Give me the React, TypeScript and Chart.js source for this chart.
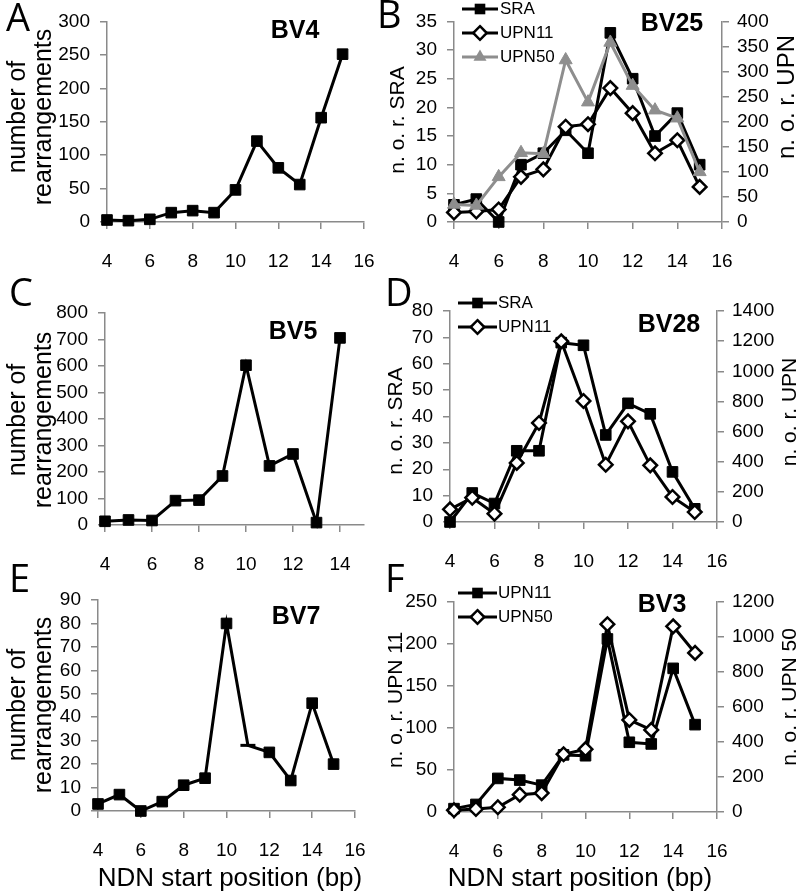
import React, { useEffect, useRef } from 'react';
import { Chart, registerables } from 'chart.js';

Chart.register(...registerables);

// ---------- data ----------
const POS = [4, 5, 6, 7, 8, 9, 10, 11, 12, 13, 14, 15];
const POS_C = [4, 5, 6, 7, 8, 9, 10, 11, 12, 13, 14];

const A_BV4 = [3, 2, 4, 14, 17, 14, 48, 121, 81, 56, 156, 251];

const B_SRA = [3, 4, 0, 10, 12, 16, 12, 33, 25, 15, 19, 10];
const B_UPN11 = [19, 21, 25, 90, 105, 190, 195, 267, 217, 137, 163, 70];
const B_UPN50 = [35, 33, 90, 138, 136, 323, 239, 358, 272, 223, 207, 100];

const C_BV5 = [14, 19, 17, 92, 94, 185, 603, 223, 268, 9, 706];

const D_SRA = [0, 11, 7, 27, 27, 68, 67, 33, 45, 41, 19, 5];
const D_UPN11 = [84, 161, 55, 392, 657, 1199, 803, 380, 668, 376, 166, 66];

const E_BV7 = [3, 7, 0, 4, 11, 14, 80, 28, 25, 13, 46, 20];
const E_STYLES = ['rect', 'rect', 'rect', 'rect', 'rect', 'rect', 'rect', 'line', 'rect', 'rect', 'rect', 'rect'];

const F_UPN11 = [4, 9, 40, 38, 32, 68, 67, 206, 83, 81, 171, 104];
const F_UPN50 = [10, 17, 27, 99, 108, 330, 359, 1073, 526, 469, 1061, 909];

const X_TITLE = 'NDN start position (bp)';
const Y_TITLE_COUNT = ['number of', 'rearrangements'];

// ---------- styling ----------
const FONT = '"Liberation Sans", Arial, sans-serif';
const LETTER_FONT = '38px "Open Sans", sans-serif';
const BV_FONT = `bold 25px ${FONT}`;
const AXIS = '#8a8a8a';
const GRAY = '#8e8e8e';

type Marker = 'square' | 'diamond' | 'triangle';
interface Series {
  label: string;
  xs: number[];
  data: number[];
  axis: 'y' | 'y1';
  marker: Marker;
  color: string;
  styles?: string[];
}
interface Txt {
  text: string;
  x: number;
  y: number;
  font: string;
  rot?: boolean;
  left?: boolean;
}
interface Panel {
  box: { x: number; y: number; w: number; h: number };
  plot: { l: number; t: number; r: number; b: number };
  xMax: number;
  y: { max: number; step: number };
  y1?: { max: number; step: number };
  series: Series[];
  texts: Txt[];
  legend?: { x1: number; x2: number; tx: number; ys: number[] };
}

const letter = (t: string, x: number, y: number): Txt => ({ text: t, x, y, font: LETTER_FONT, left: true });
const bv = (t: string, x: number, y: number): Txt => ({ text: t, x, y, font: BV_FONT });
const rot = (t: string, x: number, y: number, size: number): Txt => ({ text: t, x, y, font: `${size}px ${FONT}`, rot: true });
const xt = (x: number): Txt => ({ text: X_TITLE, x, y: 879, font: `26px ${FONT}` });

const PANELS: Panel[] = [
  {
    box: { x: 0, y: 0, w: 400, h: 280 },
    plot: { l: 107, t: 13, r: 364, b: 222 },
    xMax: 16,
    y: { max: 300, step: 50 },
    series: [{ label: 'BV4', xs: POS, data: A_BV4, axis: 'y', marker: 'square', color: '#000' }],
    texts: [letter('A', 6, 31), bv('BV4', 295, 31), rot(Y_TITLE_COUNT[0], 18, 117, 25), rot(Y_TITLE_COUNT[1], 44, 117, 25)],
  },
  {
    box: { x: 370, y: 0, w: 430, h: 280 },
    plot: { l: 454, t: 9, r: 722, b: 222 },
    xMax: 16,
    y: { max: 35, step: 5 },
    y1: { max: 400, step: 50 },
    series: [
      { label: 'SRA', xs: POS, data: B_SRA, axis: 'y', marker: 'square', color: '#000' },
      { label: 'UPN11', xs: POS, data: B_UPN11, axis: 'y1', marker: 'diamond', color: '#000' },
      { label: 'UPN50', xs: POS, data: B_UPN50, axis: 'y1', marker: 'triangle', color: GRAY },
    ],
    texts: [letter('B', 377, 28), bv('BV25', 672, 24), rot('n. o. r. SRA', 398, 120, 21), rot('n. o. r. UPN', 787, 97, 24)],
    legend: { x1: 462, x2: 498, tx: 500, ys: [9, 33, 57] },
  },
  {
    box: { x: 0, y: 265, w: 400, h: 310 },
    plot: { l: 105, t: 313, r: 363.5, b: 525 },
    xMax: 15,
    y: { max: 800, step: 100 },
    series: [{ label: 'BV5', xs: POS_C, data: C_BV5, axis: 'y', marker: 'square', color: '#000' }],
    texts: [letter('C', 9, 306), bv('BV5', 293, 332), rot(Y_TITLE_COUNT[0], 18, 420, 25), rot(Y_TITLE_COUNT[1], 44, 420, 25)],
  },
  {
    box: { x: 370, y: 265, w: 430, h: 310 },
    plot: { l: 450, t: 311, r: 717, b: 522 },
    xMax: 16,
    y: { max: 80, step: 10 },
    y1: { max: 1400, step: 200 },
    series: [
      { label: 'SRA', xs: POS, data: D_SRA, axis: 'y', marker: 'square', color: '#000' },
      { label: 'UPN11', xs: POS, data: D_UPN11, axis: 'y1', marker: 'diamond', color: '#000' },
    ],
    texts: [letter('D', 385, 306), bv('BV28', 669, 325), rot('n. o. r. SRA', 396, 421, 21), rot('n. o. r. UPN', 790, 412, 21)],
    legend: { x1: 458, x2: 497, tx: 498, ys: [303, 327] },
  },
  {
    box: { x: 0, y: 555, w: 400, h: 338 },
    plot: { l: 98, t: 600, r: 355, b: 811 },
    xMax: 16,
    y: { max: 90, step: 10 },
    series: [{ label: 'BV7', xs: POS, data: E_BV7, axis: 'y', marker: 'square', color: '#000', styles: E_STYLES }],
    texts: [letter('E', 9, 592), bv('BV7', 296, 617), rot(Y_TITLE_COUNT[0], 18, 705, 25), rot(Y_TITLE_COUNT[1], 44, 705, 25), xt(230)],
  },
  {
    box: { x: 370, y: 555, w: 430, h: 338 },
    plot: { l: 454, t: 602, r: 717, b: 812 },
    xMax: 16,
    y: { max: 250, step: 50 },
    y1: { max: 1200, step: 200 },
    series: [
      { label: 'UPN11', xs: POS, data: F_UPN11, axis: 'y', marker: 'square', color: '#000' },
      { label: 'UPN50', xs: POS, data: F_UPN50, axis: 'y1', marker: 'diamond', color: '#000' },
    ],
    texts: [letter('F', 385, 592), bv('BV3', 662, 605), rot('n. o. r. UPN 11', 396, 700, 21), rot('n. o. r. UPN 50', 790, 697, 21), xt(580)],
    legend: { x1: 458, x2: 497, tx: 498, ys: [593, 617] },
  },
];

const SQ_R = 7.5;
const DI_R = 6.8;
const TR_R = 7.5;

function markerStyle(m: Marker) {
  if (m === 'square') return { style: 'rect', r: SQ_R, bg: null as string | null, bw: 1 };
  if (m === 'diamond') return { style: 'rectRot', r: DI_R, bg: '#fff', bw: 2.5 };
  return { style: 'triangle', r: TR_R, bg: null, bw: 1 };
}

function drawMarker(ctx: CanvasRenderingContext2D, m: Marker, x: number, y: number, color: string) {
  ctx.save();
  ctx.fillStyle = color;
  ctx.strokeStyle = color;
  if (m === 'square') {
    const h = SQ_R * Math.SQRT1_2;
    ctx.fillRect(x - h, y - h, 2 * h, 2 * h);
  } else if (m === 'diamond') {
    ctx.beginPath();
    ctx.moveTo(x, y - DI_R);
    ctx.lineTo(x + DI_R, y);
    ctx.lineTo(x, y + DI_R);
    ctx.lineTo(x - DI_R, y);
    ctx.closePath();
    ctx.fillStyle = '#fff';
    ctx.fill();
    ctx.lineWidth = 2.5;
    ctx.stroke();
  } else {
    ctx.beginPath();
    ctx.moveTo(x, y - TR_R);
    ctx.lineTo(x + TR_R * 0.866, y + TR_R * 0.5);
    ctx.lineTo(x - TR_R * 0.866, y + TR_R * 0.5);
    ctx.closePath();
    ctx.fill();
  }
  ctx.restore();
}

function overlayPlugin(p: Panel) {
  return {
    id: 'overlay',
    afterDraw(chart: any) {
      const ctx: CanvasRenderingContext2D = chart.ctx;
      ctx.save();
      ctx.translate(-p.box.x, -p.box.y);
      ctx.fillStyle = '#000';
      for (const t of p.texts) {
        ctx.save();
        ctx.font = t.font;
        if (t.left) {
          ctx.textAlign = 'left';
          ctx.textBaseline = 'alphabetic';
          ctx.fillText(t.text, t.x, t.y);
        } else if (t.rot) {
          ctx.translate(t.x, t.y);
          ctx.rotate(-Math.PI / 2);
          ctx.textAlign = 'center';
          ctx.textBaseline = 'middle';
          ctx.fillText(t.text, 0, 0);
        } else {
          ctx.textAlign = 'center';
          ctx.textBaseline = 'middle';
          ctx.fillText(t.text, t.x, t.y);
        }
        ctx.restore();
      }
      if (p.legend) {
        const L = p.legend;
        p.series.forEach((s, i) => {
          const y = L.ys[i];
          ctx.save();
          ctx.strokeStyle = s.color;
          ctx.lineWidth = 3;
          ctx.beginPath();
          ctx.moveTo(L.x1, y);
          ctx.lineTo(L.x2, y);
          ctx.stroke();
          drawMarker(ctx, s.marker, (L.x1 + L.x2) / 2, y, s.color);
          ctx.fillStyle = '#000';
          ctx.font = `17px ${FONT}`;
          ctx.textAlign = 'left';
          ctx.textBaseline = 'middle';
          ctx.fillText(s.label, L.tx, y);
          ctx.restore();
        });
      }
      ctx.restore();
    },
  };
}

function axisCommon() {
  return {
    grid: { drawOnChartArea: false, drawTicks: true, tickLength: 7, color: AXIS, lineWidth: 1.5 },
    border: { display: true, color: AXIS, width: 1.5 },
  };
}

function buildConfig(p: Panel): any {
  const tickFont = { family: FONT, size: 19 };
  const scales: any = {
    x: {
      type: 'linear',
      min: 4,
      max: p.xMax,
      ticks: {
        stepSize: 2,
        includeBounds: false,
        autoSkip: false,
        maxRotation: 0,
        padding: 21,
        font: tickFont,
        color: '#000',
        callback: (v: number) => String(v),
      },
      ...axisCommon(),
      afterFit: (s: any) => {
        s.height = p.box.y + p.box.h - p.plot.b;
      },
    },
    y: {
      type: 'linear',
      position: 'left',
      min: 0,
      max: p.y.max,
      ticks: { stepSize: p.y.step, autoSkip: false, padding: 10, font: tickFont, color: '#000', callback: (v: number) => String(v) },
      ...axisCommon(),
      afterFit: (s: any) => {
        s.width = p.plot.l - p.box.x;
      },
    },
  };
  if (p.y1) {
    scales.y1 = {
      type: 'linear',
      position: 'right',
      min: 0,
      max: p.y1.max,
      ticks: { stepSize: p.y1.step, autoSkip: false, padding: 8, font: tickFont, color: '#000', callback: (v: number) => String(v) },
      ...axisCommon(),
      afterFit: (s: any) => {
        s.width = p.box.x + p.box.w - p.plot.r;
      },
    };
  }
  const n = p.series.length;
  return {
    type: 'line',
    data: {
      datasets: p.series.map((s, i) => {
        const m = markerStyle(s.marker);
        return {
          label: s.label,
          data: s.xs.map((x, k) => ({ x, y: s.data[k] })),
          yAxisID: s.axis,
          borderColor: s.color,
          borderWidth: 3,
          pointStyle: s.styles ?? m.style,
          pointRadius: m.r,
          pointBackgroundColor: m.bg ?? s.color,
          pointBorderColor: s.color,
          pointBorderWidth: s.styles ? s.styles.map((st) => (st === 'line' ? 3 : m.bw)) : m.bw,
          tension: 0,
          fill: false,
          clip: false,
          order: n - i,
        };
      }),
    },
    options: {
      responsive: false,
      animation: false,
      events: [],
      layout: {
        padding: {
          top: p.plot.t - p.box.y,
          right: p.y1 ? 0 : p.box.x + p.box.w - p.plot.r,
          left: 0,
          bottom: 0,
        },
      },
      plugins: { legend: { display: false }, tooltip: { enabled: false }, title: { display: false } },
      scales,
    },
    plugins: [overlayPlugin(p)],
  };
}

function PanelChart({ p }: { p: Panel }) {
  const ref = useRef<HTMLCanvasElement>(null);
  useEffect(() => {
    const chart = new Chart(ref.current as HTMLCanvasElement, buildConfig(p));
    return () => chart.destroy();
  }, [p]);
  return (
    <canvas
      ref={ref}
      width={p.box.w}
      height={p.box.h}
      style={{ position: 'absolute', left: p.box.x, top: p.box.y, width: p.box.w, height: p.box.h }}
    />
  );
}

export default function App() {
  return (
    <div style={{ position: 'absolute', left: 0, top: 0, width: 800, height: 893, background: '#fff', overflow: 'hidden' }}>
      {PANELS.map((p, i) => (
        <PanelChart key={i} p={p} />
      ))}
    </div>
  );
}
